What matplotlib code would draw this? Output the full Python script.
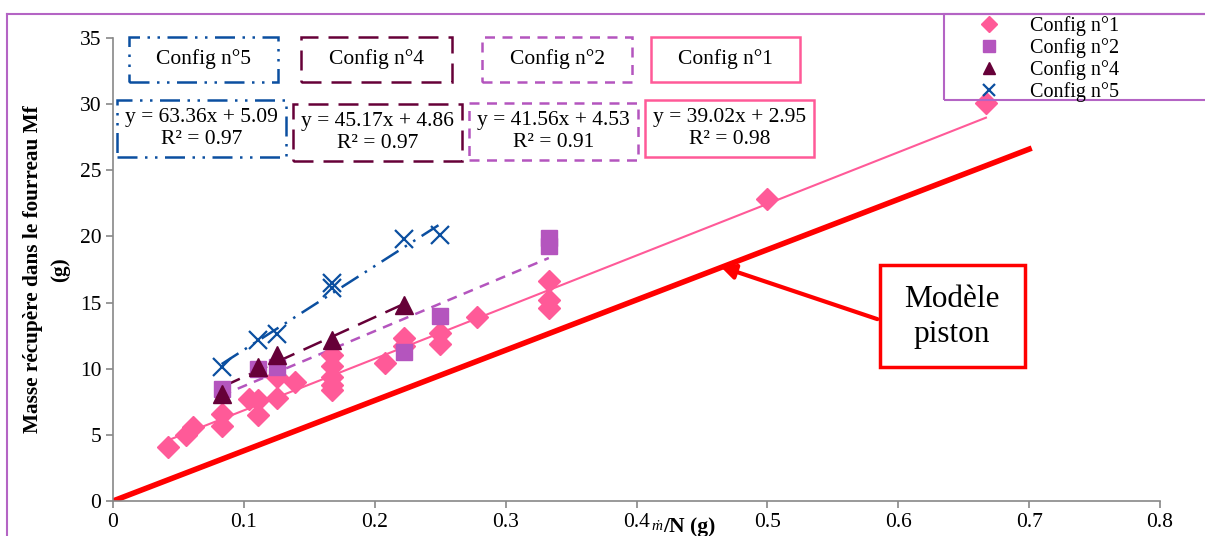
import matplotlib
matplotlib.use("Agg")
import matplotlib.pyplot as plt
from matplotlib.patches import Rectangle
from matplotlib.lines import Line2D

plt.rcParams['font.family'] = ['Liberation Serif', 'DejaVu Serif']

# data
x1 = [0.042, 0.056, 0.061, 0.083, 0.083, 0.104, 0.111, 0.111, 0.125, 0.125, 0.139,
      0.167, 0.167, 0.167, 0.167, 0.167, 0.208, 0.222, 0.222, 0.25, 0.25, 0.278,
      0.333, 0.333, 0.333, 0.5, 0.667]
y1 = [4.1, 5.0, 5.6, 6.6, 5.7, 7.7, 7.6, 6.5, 7.8, 9.4, 9.0,
      11.0, 10.2, 9.4, 8.8, 8.4, 10.4, 12.3, 11.7, 12.7, 11.9, 13.9,
      16.6, 15.2, 14.6, 22.8, 30.1]
x2 = [0.083, 0.111, 0.125, 0.222, 0.25, 0.333, 0.333]
y2 = [8.5, 10.0, 10.1, 11.3, 14.0, 19.3, 19.9]
x4 = [0.083, 0.111, 0.125, 0.167, 0.222]
y4 = [8.1, 10.1, 11.0, 12.2, 14.8]
x5 = [0.083, 0.111, 0.125, 0.167, 0.167, 0.222, 0.25]
y5 = [10.1, 12.2, 12.6, 16.5, 16.1, 19.8, 20.1]

# trendlines (slope, intercept, r2) as printed on the chart
fit1 = (39.02, 2.95, 0.98)
fit2 = (41.56, 4.53, 0.91)
fit4 = (45.17, 4.86, 0.97)
fit5 = (63.36, 5.09, 0.97)

piston_x = [0, 0.7]
piston_y = [0, 26.6]

c1 = '#FF5A98'
c2 = '#B455BE'
c4 = '#660038'
c5 = '#0B4FA0'

W, H = 1205, 536
fig = plt.figure(figsize=(W / 100, H / 100), dpi=100)
ax = fig.add_axes([113 / W, 1 - 501 / H, (1160 - 113) / W, (501 - 38) / H])


def trend(xs, fit, color, ls, lw=1.5):
    a, b, _ = fit
    xa, xb = min(xs), max(xs)
    ax.plot([xa, xb], [a * xa + b, a * xb + b], color=color, ls=ls, lw=lw, zorder=2)


trend(x1, fit1, c1, '-')
trend(x2, fit2, c2, (0, (4, 3)), 1.8)
trend(x4, fit4, c4, (0, (8, 4)), 1.8)
trend(x5, fit5, c5, (0, (8, 3, 1, 3, 1, 3)), 1.8)

ax.plot(piston_x, piston_y, color='#FF0000', lw=4, zorder=1)

ax.plot(x1, y1, 'D', color=c1, ms=11, ls='none', label='Config n°1', clip_on=False, zorder=3)
ax.plot(x2, y2, 's', color=c2, ms=12, ls='none', label='Config n°2', zorder=3)
ax.plot(x4, y4, '^', color=c4, ms=13, ls='none', label='Config n°4', zorder=4)
ax.plot(x5, y5, 'x', color=c5, ms=13, mew=1.6, ls='none', label='Config n°5', zorder=4)

ax.set_xlim(0, 0.8)
ax.set_ylim(0, 35)
ax.set_xticks([0, 0.1, 0.2, 0.3, 0.4, 0.5, 0.6, 0.7, 0.8])
ax.set_xticklabels(['0', '0.1', '0.2', '0.3', '0.4', '0.5', '0.6', '0.7', '0.8'])
ax.set_yticks(range(0, 36, 5))
for s in ['top', 'right']:
    ax.spines[s].set_visible(False)
for s in ['left', 'bottom']:
    ax.spines[s].set_color('#888888')
    ax.spines[s].set_linewidth(1.2)
ax.tick_params(colors='#888888', labelcolor='black', labelsize=15.5, length=5, width=1.2)

ax.set_ylabel('Masse récupère dans le fourreau Mf\n(g)', fontsize=15.3, fontweight='bold',
              linespacing=1.45)
ax.yaxis.set_label_coords(-0.041, 0.5)

# x axis label squeezed next to the 0.4 tick
fig.text(657 / W, 1 - 526 / H, 'ṁ', fontsize=11, style='italic', va='center', ha='center')
fig.text(663 / W, 1 - 527 / H, '/N (g)', fontsize=15.5, fontweight='bold', va='center', ha='left')

# piston model annotation
ax.annotate('', xy=(0.462, 17.8), xytext=((880 - 113) / 1308.75, (501 - 320) / 13.23),
            arrowprops=dict(arrowstyle='-|>', color='#FF0000', lw=3, mutation_scale=22))
fig.patches.append(Rectangle((880 / W, 1 - 367 / H), 145 / W, 102 / H, transform=fig.transFigure,
                             fill=True, facecolor='white', edgecolor='#FF0000', lw=2.5, zorder=5))
fig.text(952 / W, 1 - 317 / H, 'Modèle\npiston', fontsize=22.5, ha='center', va='center',
         linespacing=1.25, zorder=6)


def box(x0, y0, x1_, y1_, color, ls, txt, fs=15.5):
    fig.patches.append(Rectangle((x0 / W, 1 - y1_ / H), (x1_ - x0) / W, (y1_ - y0) / H,
                                 transform=fig.transFigure, fill=False, edgecolor=color,
                                 lw=1.8, ls=ls))
    fig.text((x0 + x1_) / 2 / W, 1 - (y0 + y1_) / 2 / H, txt, fontsize=fs,
             ha='center', va='center', linespacing=1.15)


ls5 = (0, (8, 3, 1, 3, 1, 3))
ls4 = (0, (8, 4))
ls2 = (0, (4, 3))
box(129, 37, 278, 82, c5, ls5, 'Config n°5')
box(301, 37, 452, 82, c4, ls4, 'Config n°4')
box(482, 37, 632, 82, c2, ls2, 'Config n°2')
box(651, 37, 800, 82, c1, '-', 'Config n°1')


def eq(fit):
    return 'y = %.2fx + %.2f\nR² = %.2f' % fit


box(117, 100, 286, 157, c5, ls5, eq(fit5))
box(293, 104, 462, 161, c4, ls4, eq(fit4))
box(469, 103, 638, 160, c2, ls2, eq(fit2))
box(645, 100, 814, 157, c1, '-', eq(fit1))

# chart frame and legend frame
border = '#B464C4'
fig.lines.append(Line2D([7 / W, 7 / W], [0, 1 - 14 / H], transform=fig.transFigure, color=border, lw=1.5))
fig.lines.append(Line2D([7 / W, 1], [1 - 14 / H, 1 - 14 / H], transform=fig.transFigure, color=border, lw=1.5))
fig.patches.append(Rectangle((944 / W, 1 - 100 / H), 300 / W, 86 / H, transform=fig.transFigure,
                             fill=False, edgecolor=border, lw=1.5))
fig.legend(loc='upper left', bbox_to_anchor=(955 / W, 1 - 2 / H), frameon=False,
           fontsize=14.5, handletextpad=1.0, labelspacing=0.1, borderpad=0.2, markerscale=0.7,
           handlelength=2.0)

fig.savefig('out.png', dpi=100)
